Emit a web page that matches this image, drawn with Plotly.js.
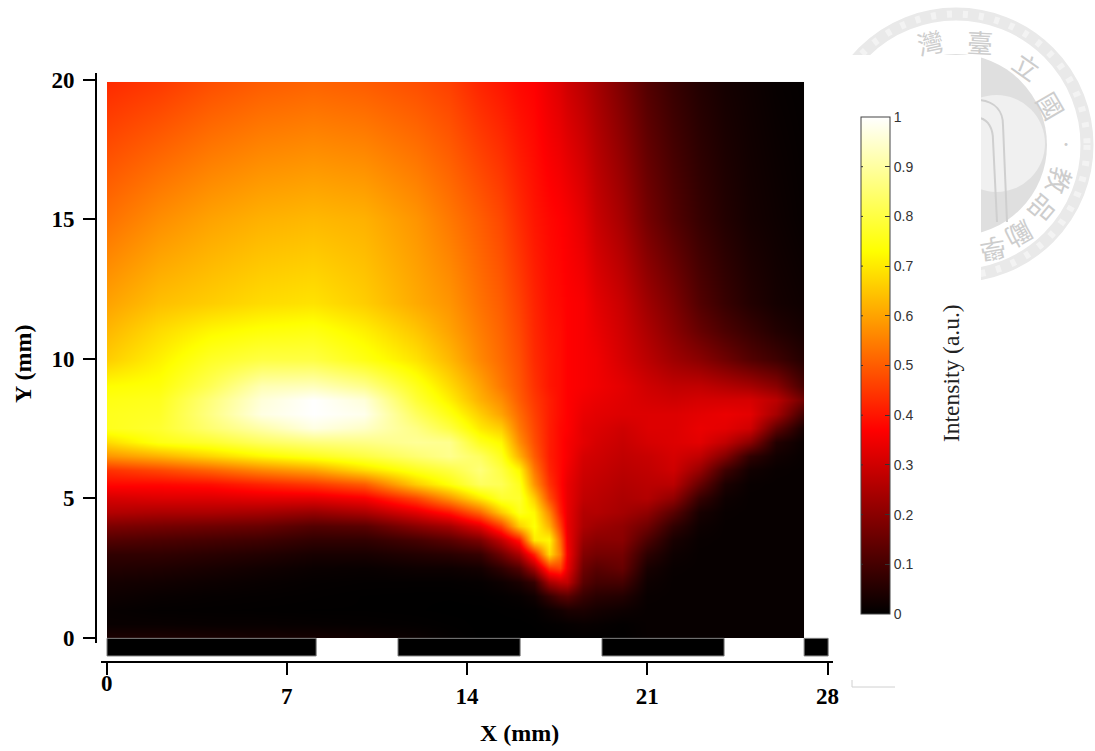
<!DOCTYPE html>
<html>
<head>
<meta charset="utf-8">
<script src="https://cdn.plot.ly/plotly-3.0.1.min.js"></script>
<style>html,body{margin:0;padding:0;background:#fff}#chart{width:1095px;height:751px}</style>
</head>
<body>
<div id="chart"></div>
<script>
const yMM = [0,.5,1,1.5,2,2.5,3,3.5,4,4.5,5,5.5,6,6.5,7,7.5,8,8.5,9,10,11,12,15,19.91];
const xMM = [0.02,2,4,6,8,10,12,13.3,14.5,15.3,16,16.6,17.2,17.6,17.9,18.5,19,20,21,22,23,24,25,26,27.09];
const colX00 = [.04,.012,.01,.02,.03,.05,.07,.12,.18,.26,.31,.38,.44,.58,.68,.76,.76,.75,.73,.66,.63,.60,.53,.43];
const colX02 = [.04,.012,.005,.012,.025,.045,.07,.11,.17,.25,.32,.38,.47,.62,.75,.78,.77,.76,.74,.71,.68,.64,.57,.45];
const colX04 = [.035,.01,.004,.008,.018,.035,.06,.10,.16,.25,.32,.39,.51,.67,.78,.85,.87,.86,.82,.77,.72,.66,.60,.48];
const colX06 = [.03,.01,.003,.006,.012,.025,.05,.09,.15,.24,.33,.42,.56,.72,.83,.91,.97,.96,.92,.80,.74,.68,.62,.50];
const colX08 = [.03,.008,.002,.004,.007,.015,.035,.07,.12,.22,.33,.45,.60,.76,.86,.97,1,1,.93,.80,.75,.69,.63,.51];
const colX10 = [.025,.006,.002,.002,.005,.012,.035,.07,.13,.25,.36,.50,.68,.80,.87,.94,.98,.96,.88,.75,.71,.66,.62,.50];
const colX12 = [.015,.004,.001,.001,.005,.02,.05,.10,.20,.33,.47,.66,.76,.85,.89,.87,.83,.79,.76,.69,.65,.61,.58,.48];
const colX133 = [.005,.002,0,.001,.005,.02,.06,.13,.24,.40,.58,.74,.80,.88,.88,.80,.75,.71,.68,.63,.60,.58,.54,.46];
const colX145 = [0,0,0,.002,.008,.03,.08,.18,.33,.52,.70,.83,.86,.83,.76,.70,.66,.62,.60,.56,.545,.53,.50,.42];
const colX153 = [0,0,.001,.005,.02,.07,.16,.28,.46,.66,.78,.82,.80,.76,.72,.66,.60,.57,.54,.52,.51,.50,.47,.40];
const colX16 = [0,0,.002,.01,.04,.12,.25,.40,.66,.76,.78,.76,.72,.62,.57,.54,.52,.50,.49,.48,.47,.46,.43,.38];
const colX166 = [0,.001,.005,.025,.08,.24,.42,.70,.74,.72,.66,.58,.54,.50,.48,.47,.46,.45,.44,.43,.425,.42,.40,.37];
const colX172 = [0,.004,.02,.08,.24,.44,.68,.72,.62,.56,.48,.44,.42,.41,.41,.41,.41,.41,.40,.40,.395,.39,.38,.34];
const colX176 = [0,.006,.03,.12,.28,.46,.55,.52,.46,.41,.39,.38,.38,.38,.38,.38,.385,.385,.385,.385,.385,.38,.37,.32];
const colX179 = [.002,.008,.04,.13,.28,.34,.36,.35,.34,.34,.34,.34,.35,.36,.36,.37,.37,.37,.37,.37,.37,.37,.36,.30];
const colX185 = [.003,.012,.04,.08,.13,.16,.19,.22,.25,.26,.28,.29,.30,.31,.33,.33,.34,.35,.36,.36,.36,.36,.33,.27];
const colX19 = [.002,.01,.03,.06,.10,.13,.17,.20,.23,.26,.27,.28,.29,.30,.31,.32,.33,.34,.35,.35,.34,.33,.29,.24];
const colX20 = [.002,.004,.02,.05,.10,.15,.17,.20,.21,.24,.25,.26,.27,.28,.29,.30,.32,.325,.33,.31,.30,.29,.24,.18];
const colX21 = [.01,.01,.01,.012,.02,.035,.065,.11,.16,.21,.26,.27,.28,.29,.31,.32,.32,.31,.30,.27,.25,.23,.17,.12];
const colX22 = [.01,.01,.01,.01,.01,.012,.02,.035,.07,.13,.21,.27,.30,.31,.32,.32,.32,.30,.28,.23,.20,.18,.12,.08];
const colX23 = [.01,.01,.01,.01,.01,.01,.01,.012,.02,.035,.08,.15,.22,.28,.33,.34,.33,.31,.28,.20,.15,.12,.08,.05];
const colX24 = [.01,.01,.01,.01,.01,.01,.01,.01,.01,.012,.02,.04,.09,.19,.28,.33,.34,.31,.26,.16,.11,.08,.05,.03];
const colX25 = [.01,.01,.01,.01,.01,.01,.01,.01,.01,.01,.01,.012,.025,.07,.20,.30,.33,.31,.24,.12,.08,.05,.03,.02];
const colX26 = [.01,.01,.01,.01,.01,.01,.01,.01,.01,.01,.01,.01,.012,.025,.05,.14,.24,.27,.20,.09,.05,.03,.02,.01];
const colX27 = [.01,.01,.01,.01,.01,.01,.01,.01,.01,.01,.01,.01,.01,.01,.012,.03,.09,.16,.10,.05,.03,.02,.01,.005];
const columns = [colX00,colX02,colX04,colX06,colX08,colX10,colX12,colX133,colX145,colX153,colX16,colX166,colX172,colX176,colX179,colX185,colX19,colX20,colX21,colX22,colX23,colX24,colX25,colX26,colX27];

const stripeStart = [0.02,11.32,19.24,27.09];
const stripeEnd = [8.14,16.06,23.98,28.02];
const xTicks = [0,7,14,21,28];
const xTickText = ['','7','14','21','28'];
const yTicks = [0,5,10,15,20];
const cbTicks = [0,.1,.2,.3,.4,.5,.6,.7,.8,.9,1];
const cbTickText = ['0','0.1','0.2','0.3','0.4','0.5','0.6','0.7','0.8','0.9','1'];

const W = 1095, H = 751;
const px = v => v / W, py = v => 1 - v / H;
const eps = 0.0005;
const xPad = [xMM[0] - eps, ...xMM, xMM[xMM.length - 1] + eps];
const yPad = [yMM[0] - eps, ...yMM, yMM[yMM.length - 1] + eps];
const pad = a => [a[0], ...a, a[a.length - 1]];
const colsPad = pad(columns);
const zRows = yPad.map((_, r) => colsPad.map(c => pad(c)[r]));

const cbTop = 117, cbLen = 497;
const heat = {
  type: 'heatmap', x: xPad, y: yPad, z: zRows, zsmooth: 'best', zmin: 0, zmax: 1,
  colorscale: [[0, '#000000'], [0.37, '#ff0000'], [0.73, '#ffff00'], [1, '#ffffff']],
  colorbar: {
    lenmode: 'pixels', len: cbLen, thicknessmode: 'pixels', thickness: 29,
    x: px(861), xanchor: 'left', y: py(cbTop), yanchor: 'top', xpad: 0, ypad: 0,
    outlinecolor: '#444', outlinewidth: 1,
    ticks: 'inside', ticklen: 5, tickwidth: 1, tickcolor: '#333',
    tickmode: 'array', tickvals: cbTicks, ticktext: cbTickText,
    tickfont: {family: 'Liberation Sans', size: 14, color: '#333'}
  }
};
const stripes = {
  type: 'bar', orientation: 'h',
  x: stripeEnd.map((e, i) => e - stripeStart[i]), base: stripeStart,
  y: stripeStart.map(() => -0.345), width: 0.63,
  marker: {color: '#000', line: {color: '#777', width: 1}}, showlegend: false
};

const tickFont = {family: 'Liberation Serif', size: 23, color: '#000', weight: 'bold'};
const cx = 956, cy = 145;
const circle = (r, extra) => Object.assign({type: 'circle', xref: 'paper', yref: 'paper', layer: 'below',
  x0: px(cx - r), x1: px(cx + r), y0: py(cy + r), y1: py(cy - r)}, extra);
const line = (d, color, w) => ({type: 'path', xref: 'paper', yref: 'paper', layer: 'below', path: d, line: {color, width: w}});
const P = (x, y) => px(x) + ',' + py(y);

const shapes = [
  circle(131, {line: {color: '#e9e9e9', width: 13}}),
  circle(131, {line: {color: '#f3f3f3', width: 7, dash: '5px,11px'}}),
  circle(91, {fillcolor: '#dfdfdf', line: {width: 0}}),
  circle(54, {x0: px(948), x1: px(1045), y0: py(192), y1: py(95), fillcolor: '#f0f0f0', line: {width: 0}}),
  line('M' + P(980, 100) + ' C' + P(996, 102) + ' ' + P(1003, 112) + ' ' + P(1003, 125) + ' L' + P(1007, 222), '#cfcfcf', 2),
  line('M' + P(980, 118) + ' C' + P(988, 120) + ' ' + P(993, 128) + ' ' + P(993, 140) + ' L' + P(997, 222), '#cfcfcf', 2),
  {type: 'rect', xref: 'paper', yref: 'paper', layer: 'below', x0: px(805), x1: px(981), y0: py(320), y1: py(55), fillcolor: '#fff', line: {width: 0}},
  line('M' + P(852, 680) + ' L' + P(852, 687) + ' L' + P(895, 687), '#d0d0d0', 1),
  {type: 'line', xref: 'paper', yref: 'paper', x0: px(96), x1: px(96), y0: py(643), y1: py(73), line: {color: '#000', width: 2}}
];

const sealChar = (t, x, y, rot, size) => ({text: t, xref: 'paper', yref: 'paper', x: px(x), y: py(y), showarrow: false,
  xanchor: 'center', yanchor: 'middle', textangle: rot,
  font: {family: 'Noto Sans CJK TC', size: size || 26, color: '#cdcdcd'}});
const note = (t, x, y, angle, font) => ({text: t, xref: 'paper', yref: 'paper', x: px(x), y: py(y), showarrow: false,
  xanchor: 'center', yanchor: 'middle', textangle: angle, font});
const leftTicks = cbTicks.slice(1, -1).map(v => ({
  text: ' ', xref: 'paper', yref: 'paper', x: px(861), y: py(cbTop + cbLen * (1 - v)),
  showarrow: true, arrowhead: 0, arrowwidth: 1, arrowcolor: '#333', ax: 5, ay: 0, standoff: 0
}));

const layout = {
  width: W, height: H, margin: {l: 0, r: 0, t: 0, b: 0}, paper_bgcolor: '#fff', plot_bgcolor: 'rgba(0,0,0,0)',
  showlegend: false, shapes,
  xaxis: {
    domain: [px(101), px(833)], range: [-0.214, 28.21], anchor: 'free', position: py(662),
    showgrid: false, zeroline: false, showline: true, linecolor: '#000', linewidth: 2,
    ticks: 'outside', ticklen: 12, tickwidth: 2, tickcolor: '#000',
    tickmode: 'array', tickvals: xTicks, ticktext: xTickText, tickfont: tickFont, ticklabelstandoff: 1
  },
  yaxis: {
    domain: [py(660), py(73)], range: [-0.806, 20.233], anchor: 'free', position: px(96),
    showgrid: false, zeroline: false, showline: false,
    ticks: 'outside', ticklen: 13, tickwidth: 2, tickcolor: '#000',
    tickmode: 'array', tickvals: yTicks, tickfont: tickFont, ticklabelstandoff: 4
  },
  annotations: [
    note('0', 107, 683, 0, tickFont),
    note('X (mm)', 519, 733, 0, {family: 'Liberation Serif', size: 24, color: '#000', weight: 'bold'}),
    note('Y (mm)', 23, 364, -90, {family: 'Liberation Serif', size: 24, color: '#000', weight: 'bold'}),
    note('Intensity (a.u.)', 951, 373, -90, {family: 'Liberation Serif', size: 23.5, color: '#222'}),
    sealChar('灣', 930, 41, -12), sealChar('臺', 980, 41, 3),
    sealChar('立', 1027, 66, 35), sealChar('國', 1052, 105, 60),
    sealChar('•', 1066, 143, 0, 14), sealChar('教', 1061, 181, 108),
    sealChar('品', 1044, 210, 130), sealChar('勵', 1020, 236, 150), sealChar('學', 993, 250, 170),
    ...leftTicks
  ]
};
Plotly.newPlot('chart', [heat, stripes], layout, {displayModeBar: false, responsive: false});
</script>
</body>
</html>
